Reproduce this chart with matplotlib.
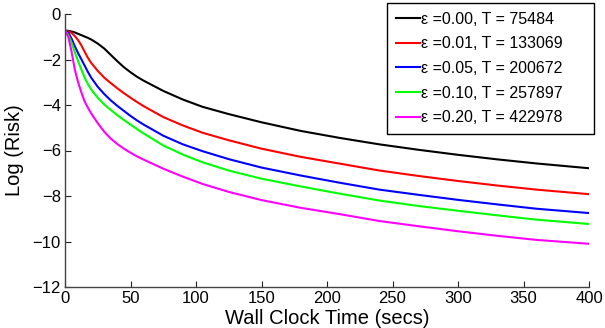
import matplotlib
matplotlib.use("Agg")
import matplotlib.pyplot as plt

plt.rcParams['font.family'] = ['Liberation Sans', 'DejaVu Sans']

time_s = [0, 2.5, 5, 7.5, 10, 12.5, 15, 17.5, 20, 25, 30, 35, 40, 45, 50, 55, 60, 75, 90,
          105, 125, 150, 180, 210, 240, 270, 300, 330, 360, 400]

risk_eps000 = [-0.73, -0.74, -0.77, -0.81, -0.87, -0.93, -0.99, -1.05, -1.12, -1.30, -1.52,
               -1.80, -2.08, -2.34, -2.56, -2.76, -2.93, -3.38, -3.76, -4.08, -4.40, -4.76,
               -5.14, -5.45, -5.73, -5.97, -6.19, -6.39, -6.57, -6.78]
risk_eps001 = [-0.73, -0.76, -0.83, -0.97, -1.15, -1.38, -1.66, -1.93, -2.15, -2.50, -2.80,
               -3.04, -3.27, -3.48, -3.68, -3.87, -4.05, -4.53, -4.90, -5.22, -5.55, -5.92,
               -6.28, -6.58, -6.88, -7.12, -7.34, -7.54, -7.72, -7.92]
risk_eps005 = [-0.73, -0.82, -1.08, -1.42, -1.72, -1.99, -2.27, -2.55, -2.80, -3.20, -3.52,
               -3.80, -4.04, -4.26, -4.48, -4.68, -4.86, -5.35, -5.73, -6.03, -6.38, -6.75,
               -7.10, -7.42, -7.72, -7.95, -8.17, -8.37, -8.56, -8.75]
risk_eps010 = [-0.73, -0.92, -1.27, -1.68, -2.08, -2.44, -2.80, -3.08, -3.32, -3.68, -3.98,
               -4.22, -4.45, -4.66, -4.86, -5.06, -5.25, -5.78, -6.18, -6.52, -6.88, -7.24,
               -7.58, -7.90, -8.20, -8.44, -8.65, -8.85, -9.04, -9.23]
risk_eps020 = [-0.73, -1.00, -1.65, -2.45, -3.00, -3.45, -3.85, -4.12, -4.37, -4.80, -5.18,
               -5.48, -5.72, -5.92, -6.10, -6.26, -6.40, -6.80, -7.15, -7.47, -7.82, -8.18,
               -8.52, -8.80, -9.10, -9.33, -9.55, -9.75, -9.93, -10.10]

series = [risk_eps000, risk_eps001, risk_eps005, risk_eps010, risk_eps020]
labels = ["ε =0.00, T = 75484", "ε =0.01, T = 133069", "ε =0.05, T = 200672",
          "ε =0.10, T = 257897", "ε =0.20, T = 422978"]
colors = ["#000000", "#ff0000", "#0000ff", "#00ff00", "#ff00ff"]

x_ticks = [0, 50, 100, 150, 200, 250, 300, 350, 400]
y_ticks = [-12, -10, -8, -6, -4, -2, 0]

fig = plt.figure(figsize=(6.05, 3.28), dpi=100)
ax = fig.add_axes([65/605, 1-287/328, (589-65)/605, (287-14)/328])

for vals, lab, col in zip(series, labels, colors):
    ax.plot(time_s, vals, color=col, lw=1.5, label=lab)

ax.set_xlim(0, 400)
ax.set_ylim(-12, 0)
ax.set_xticks(x_ticks)
ax.set_yticks(y_ticks)
ax.tick_params(direction='in', length=4, width=0.8, labelsize=12, pad=3, colors='#222222')
for lab in ax.get_xticklabels() + ax.get_yticklabels():
    lab.set_color('black')
ax.spines['top'].set_visible(False)
ax.spines['right'].set_visible(False)
for s in ['left', 'bottom']:
    ax.spines[s].set_color('#444444')
    ax.spines[s].set_linewidth(1.0)

ax.set_xlabel("Wall Clock Time (secs)", fontsize=14.5, labelpad=2)
ax.set_ylabel("Log (Risk)", fontsize=14.5, labelpad=6)

leg = ax.legend(loc='upper left', bbox_to_anchor=(387/605, 1-141/328, 207/605, 138/328),
                bbox_transform=fig.transFigure, mode='expand', fontsize=11.5, frameon=True,
                fancybox=False, framealpha=1, edgecolor='black', handlelength=1.5,
                handletextpad=0.1, borderpad=0.55, labelspacing=0.6, borderaxespad=0)
leg.get_frame().set_linewidth(1.0)

fig.savefig("out.png", dpi=100)
